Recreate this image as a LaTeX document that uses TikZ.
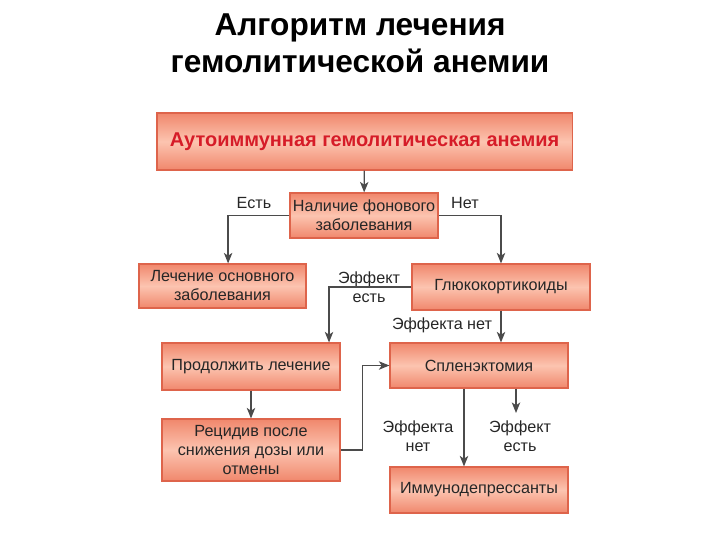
\documentclass[tikz,border=0pt]{standalone}
\usepackage{fontspec}
\setmainfont{Liberation Sans}
\usetikzlibrary{arrows.meta, positioning}
\definecolor{boxedge}{RGB}{222,100,75}
\definecolor{boxdark}{RGB}{240,135,108}
\definecolor{boxlight}{RGB}{252,196,176}
\definecolor{linegray}{RGB}{75,75,75}
\definecolor{headred}{RGB}{214,28,40}

\begin{document}
\begin{tikzpicture}[x=0.025cm, y=-0.025cm,
        block/.style={rectangle, draw=boxedge, line width=0.8pt, top color=boxdark, bottom color=boxdark, middle color=boxlight, text=black!85, align=center, inner sep=2pt, font=\fontsize{11.5}{13.5}\selectfont},
        lbl/.style={align=center, inner sep=1pt, text=black!85, font=\fontsize{11.5}{13.5}\selectfont},
        line/.style={draw=linegray, line width=0.9pt, -{Stealth[length=7.5pt, width=6pt, inset=2pt]}}]

    \useasboundingbox (0,0) rectangle (720,540);

    % title
    \node [align=center, font=\fontsize{22.5}{26.5}\selectfont\bfseries] (title) at (360,43) {Алгоритм лечения\\гемолитической анемии};

    % boxes
    \node [block, minimum width=10.375cm, minimum height=1.425cm, text=headred, font=\fontsize{14.2}{16}\selectfont\bfseries] (aiha) at (364.5,141.5) {Аутоиммунная гемолитическая анемия};
    \node [block, minimum width=3.7cm, minimum height=1.125cm] (bgdis) at (364,215.5) {Наличие фонового\\заболевания};
    \node [block, minimum width=4.175cm, minimum height=1.1cm] (treatbase) at (222.5,286) {Лечение основного\\заболевания};
    \node [block, minimum width=4.45cm, minimum height=1.15cm] (gluco) at (501,287) {Глюкокортикоиды};
    \node [block, minimum width=4.45cm, minimum height=1.175cm] (cont) at (251,366.5) {Продолжить лечение};
    \node [block, minimum width=4.45cm, minimum height=1.125cm] (splen) at (479,365.5) {Спленэктомия};
    \node [block, minimum width=4.45cm, minimum height=1.55cm] (relapse) at (251,450) {Рецидив после\\снижения дозы или\\отмены};
    \node [block, minimum width=4.45cm, minimum height=1.15cm] (immuno) at (479,490) {Иммунодепрессанты};

    % labels
    \node [lbl] (yes1) at (254,203) {Есть};
    \node [lbl] (no1) at (465,203) {Нет};
    \node [lbl] (eff1) at (369,287) {Эффект\\есть};
    \node [lbl] (noeff1) at (442,325) {Эффекта нет};
    \node [lbl] (noeff2) at (418,436) {Эффекта\\нет};
    \node [lbl] (eff2) at (520,436) {Эффект\\есть};

    \coordinate (effend) at (516,413);

    % connectors
    \path [line] (aiha) -- (bgdis);
    \path [line] (bgdis.west) -| ([xshift=0.14cm]treatbase.north);
    \path [line] (bgdis.east) -| (gluco.north);
    \path [line] (gluco.west) -| ([xshift=1.95cm]cont.north);
    \path [line] (gluco.south) -- (gluco.south |- splen.north);
    \path [line] (cont) -- (relapse);
    \path [line] (relapse.east) -- ++(22,0) |- (splen.west);
    \path [line] ([xshift=-0.375cm]splen.south) -- ([xshift=-0.375cm]immuno.north);
    \path [line] (splen.south -| effend) -- (effend);
\end{tikzpicture}
\end{document}
